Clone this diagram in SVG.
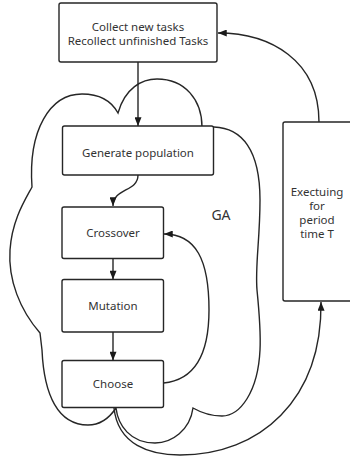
<svg xmlns="http://www.w3.org/2000/svg" width="350" height="459" viewBox="0 0 350 459">
<defs>
<marker id="arr" viewBox="0 0 10 8" refX="10" refY="4" markerWidth="10" markerHeight="7" markerUnits="userSpaceOnUse" orient="auto">
<path d="M0,0 L10,4 L0,8 Z" fill="#1a1a1a"/>
</marker>
</defs>
<style>
.box{fill:#fff;stroke:#262626;stroke-width:1.4}
.cloud{fill:none;stroke:#262626;stroke-width:1.4}
.edge{fill:none;stroke:#262626;stroke-width:1.4}
text{font-family:"Noto Sans","Open Sans",sans-serif;font-size:11.5px;fill:#333;text-anchor:middle}
.big{font-size:14px}
</style>
<rect width="350" height="459" fill="#fff"/>
<g id="cloud">
<path class="cloud" d="M32,187 C28,130 50,94 82,94 C100,94 112,102 118,113 C125,88 142,79 157,79 C185,79 202,100 202,127 L214,127 C242,128 260,150 260,200 C260,240 255,265 257,290 C259,310 261,330 260,350 C258,392 240,416 222,416 C210,416 200,412 193,408 C190,430 172,443 155,443 C130,443 118,425 116,408 C108,420 98,425 88,425 C58,425 44,395 42,350 L40,333 C20,310 8,280 10,250 C12,220 25,200 32,187 Z"/>
<text class="big" x="221" y="220">GA</text>
</g>
<g id="collect">
<rect class="box" x="59" y="3" width="158" height="59" rx="2"/>
<text x="138" y="31">Collect new tasks</text>
<text x="138" y="45">Recollect unfinished Tasks</text>
</g>
<g id="generate">
<rect class="box" x="62.5" y="126" width="151" height="49" rx="2"/>
<text x="138" y="157">Generate population</text>
</g>
<g id="crossover">
<rect class="box" x="62" y="207" width="101.5" height="51.5" rx="2"/>
<text x="113" y="237">Crossover</text>
</g>
<g id="mutation">
<rect class="box" x="62" y="279.5" width="101.5" height="52.5" rx="2"/>
<text x="113" y="310">Mutation</text>
</g>
<g id="choose">
<rect class="box" x="62" y="360.5" width="101.5" height="47" rx="2"/>
<text x="113" y="388">Choose</text>
</g>
<g id="executing">
<rect class="box" x="283" y="122" width="72" height="179" rx="2"/>
<text x="317" y="196">Exectuing</text>
<text x="317" y="210">for</text>
<text x="317" y="224">period</text>
<text x="317" y="238">time T</text>
</g>
<g id="connectors">
<path class="edge" d="M138,62 L138,126" marker-end="url(#arr)"/>
<path class="edge" d="M138,175 C138,192 113,188 113,206" marker-end="url(#arr)"/>
<path class="edge" d="M113,258.5 L113,279.5" marker-end="url(#arr)"/>
<path class="edge" d="M113,332 L113,360.5" marker-end="url(#arr)"/>
<path class="edge" d="M163.5,383 C195,380 209,355 209,310 C209,260 196,234 164,234" marker-end="url(#arr)"/>
<path class="edge" d="M114,408 C118,445 150,455 180,455 C260,455 322,400 321,302" marker-end="url(#arr)"/>
<path class="edge" d="M319,122 C319,60 270,33 218,33" marker-end="url(#arr)"/>
</g>
</svg>
